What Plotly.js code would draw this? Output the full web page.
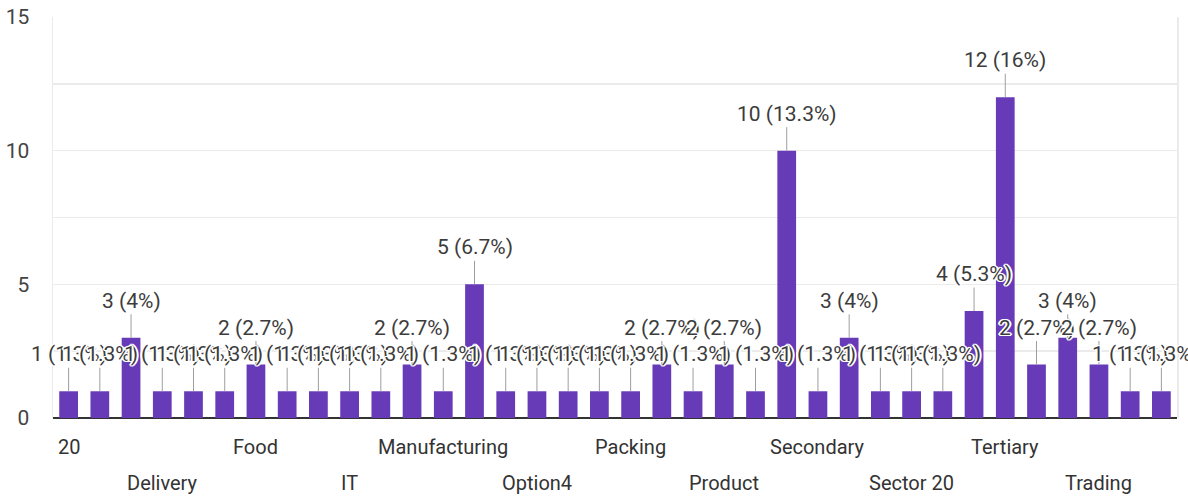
<!DOCTYPE html>
<html>
<head>
<meta charset="utf-8">
<script src="https://cdn.plot.ly/plotly-3.0.1.min.js"></script>
<style>html,body{margin:0;padding:0;background:#fff;}#chart{width:1188px;height:499px;}</style>
</head>
<body>
<div id="chart"></div>
<script>
// Category labels (only every third label is readable in the reference; others blank)
const categories = ['20','','','Delivery','','','Food','','','IT','','','Manufacturing','','','Option4','','',
  'Packing','','','Product','','','Secondary','','','Sector 20','','','Tertiary','','','Trading','',''];
// Response counts per category
const counts = [1,1,3,1,1,1,2,1,1,1,1,2,1,5,1,1,1,1,1,2,1,2,1,10,1,3,1,1,1,4,12,2,3,2,1,1];
const yTickVals = [0,5,10,15];

const total = counts.reduce((a,b)=>a+b,0);
const xs = counts.map((_, i) => i);
const fmtPct = v => { const p = Math.round(v/total*1000)/10; return (p % 1 === 0 ? p.toFixed(0) : p.toFixed(1)) + '%'; };

const halo = '-1px -1px 0 #fff, 1px -1px 0 #fff, -1px 1px 0 #fff, 1px 1px 0 #fff, 0 1px 0 #fff, 0 -1px 0 #fff, 1px 0 0 #fff, -1px 0 0 #fff, 2px 0 0 #fff, -2px 0 0 #fff';

const annotations = [];
counts.forEach((v, i) => {
  annotations.push({
    x: xs[i], y: v, xref: 'x', yref: 'y',
    text: v + ' (' + fmtPct(v) + ')',
    showarrow: true, arrowhead: 0, arrowwidth: 1, arrowcolor: '#9e9e9e',
    ax: 0, ay: -37, standoff: 0,
    font: {family: 'Roboto, Arial, sans-serif', size: 21, color: '#3c3c3c', shadow: halo}
  });
});
let k = 0;
categories.forEach((c, i) => {
  if (!c) return;
  annotations.push({
    x: xs[i], y: 0, xref: 'x', yref: 'paper', yanchor: 'top', xanchor: 'center',
    yshift: (k % 2 === 0) ? -15 : -51,
    text: c, showarrow: false,
    font: {family: 'Roboto, Arial, sans-serif', size: 20, color: '#333'}
  });
  k++;
});

const data = [{
  type: 'bar', x: xs, y: counts,
  marker: {color: '#673ab7'},
  hoverinfo: 'skip'
}];

const layout = {
  width: 1188, height: 499,
  margin: {l: 53, r: 11, t: 17, b: 81},
  paper_bgcolor: '#fff', plot_bgcolor: '#fff',
  bargap: 0.4,
  showlegend: false,
  xaxis: {range: [-0.5, counts.length - 0.5], showticklabels: false, showgrid: false, zeroline: false, fixedrange: true},
  yaxis: {
    range: [0, 15], tickvals: yTickVals, ticktext: yTickVals.map(String),
    showgrid: true, gridcolor: '#ebebeb', gridwidth: 1.5,
    minor: {dtick: 2.5, tick0: 0, showgrid: true, gridcolor: '#ebebeb', gridwidth: 1.5},
    zeroline: true, zerolinecolor: '#333', zerolinewidth: 2,
    showline: true, linecolor: '#ebebeb', linewidth: 1.5, mirror: true,
    ticklabelstandoff: 18,
    tickfont: {family: 'Roboto, Arial, sans-serif', size: 21, color: '#444'},
    fixedrange: true
  },
  annotations: annotations
};

Plotly.newPlot('chart', data, layout, {displayModeBar: false, staticPlot: true});
</script>
</body>
</html>
